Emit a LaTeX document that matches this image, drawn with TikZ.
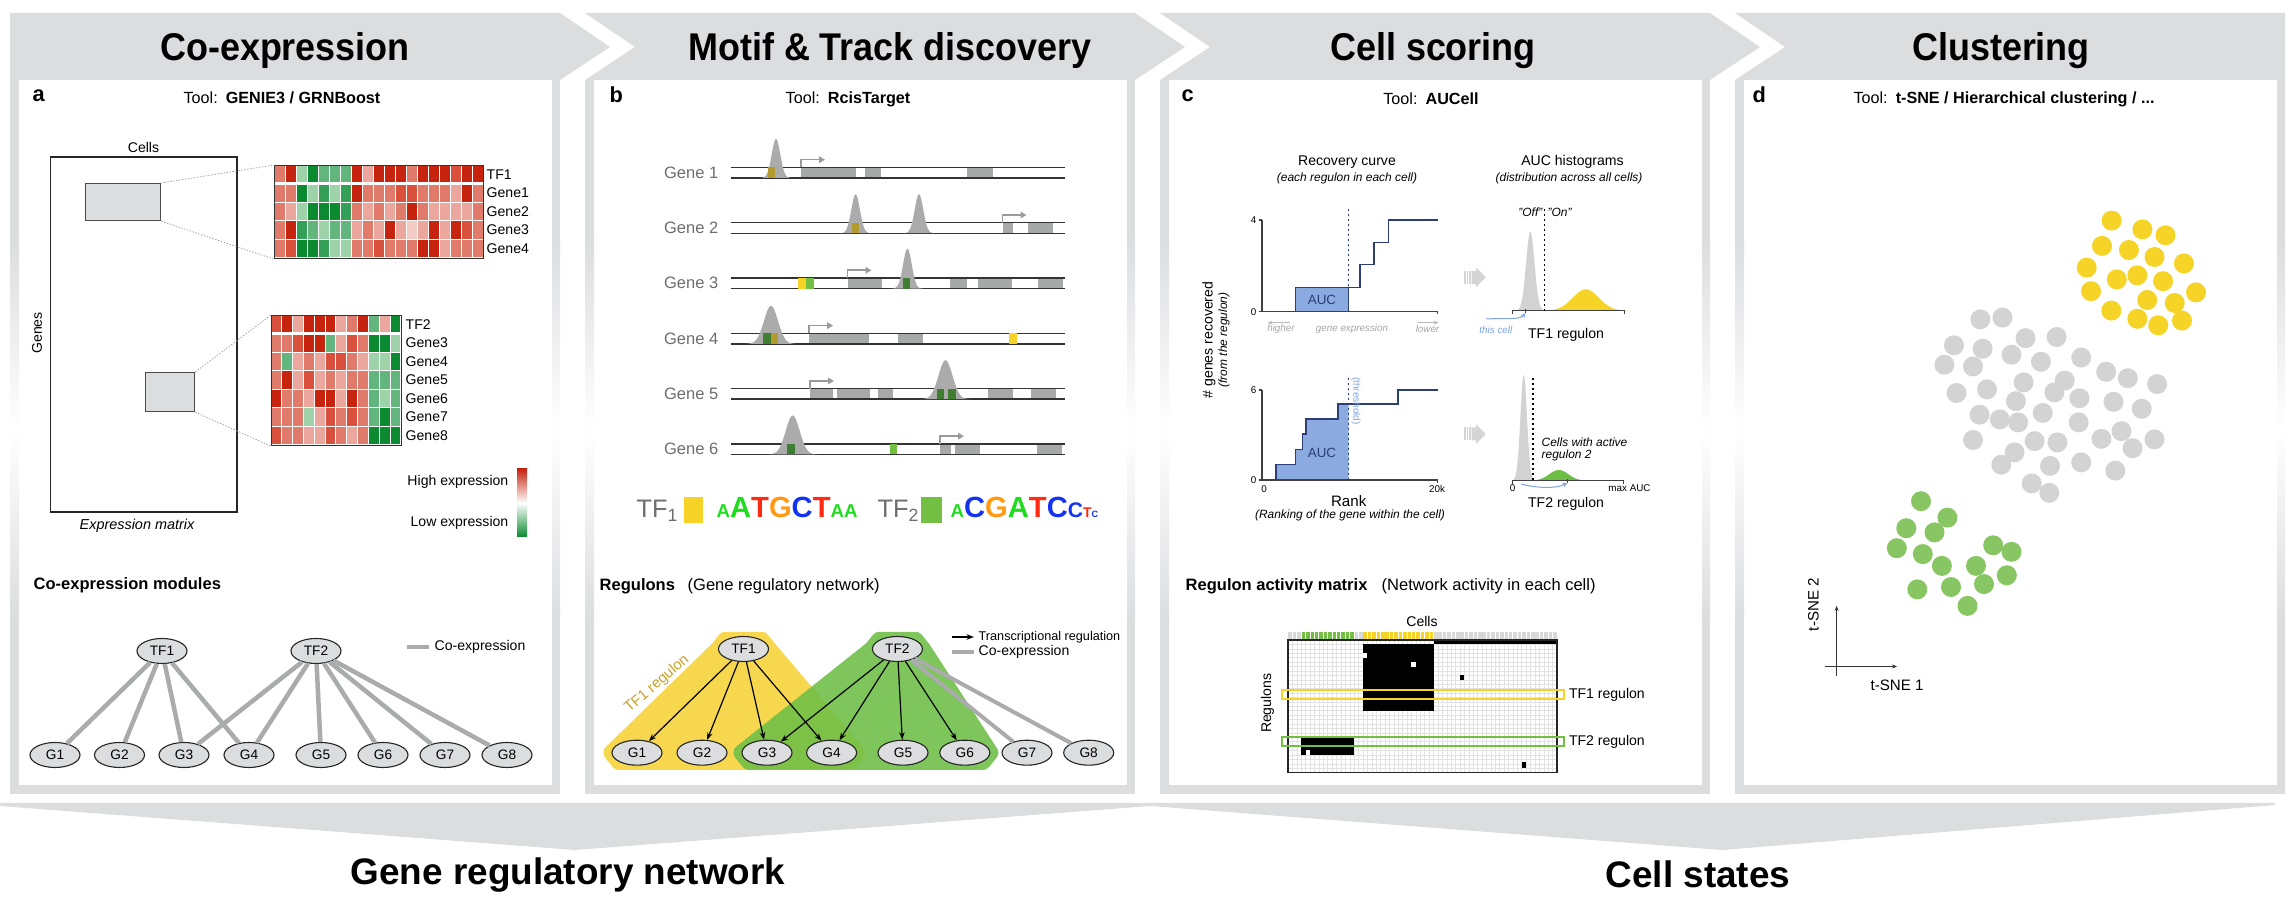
\documentclass[tikz,border=0pt]{standalone}
\usepackage{fontspec}
\setmainfont{Liberation Sans}
\usepackage{graphicx}
\usetikzlibrary{arrows.meta,positioning,shapes.geometric}
\pgfdeclarelayer{background}
\pgfsetlayers{background,main}
\definecolor{frameGray}{HTML}{DCDDDF}
\definecolor{nodeGray}{HTML}{DCDDDF}
\definecolor{edgeGray}{HTML}{A9ABAC}
\definecolor{peakGray}{HTML}{ABABAB}
\definecolor{exonGray}{HTML}{A7A9A9}
\definecolor{tssGray}{HTML}{9B9B9B}
\definecolor{geneText}{HTML}{6E6E6E}
\definecolor{tfYellow}{HTML}{F5D327}
\definecolor{tfGreen}{HTML}{72BF44}
\definecolor{tfOlive}{HTML}{B39A2E}
\definecolor{tfDkGreen}{HTML}{3F7D31}
\definecolor{blobYellow}{HTML}{F6D74E}
\definecolor{blobGreen}{HTML}{6DBE45}
\definecolor{regText}{HTML}{C9A227}
\definecolor{aucBlue}{HTML}{8AAAE0}
\definecolor{aucNavy}{HTML}{2C3E75}
\definecolor{lightBlue}{HTML}{7DA2E6}
\definecolor{histGray}{HTML}{D2D2D2}
\definecolor{arrowGray}{HTML}{D5D5D5}
\definecolor{dotGray}{HTML}{D3D3D3}
\definecolor{dotGreen}{HTML}{88C663}
\definecolor{barGray}{HTML}{D8D8D8}
\definecolor{gridGray}{HTML}{E2E2E2}
\definecolor{seqGreen}{HTML}{1FDC1F}
\definecolor{seqRed}{HTML}{FF2A12}
\definecolor{seqOrange}{HTML}{FF9A12}
\definecolor{seqBlue}{HTML}{1433F0}
\definecolor{hm1}{HTML}{0B8A2F}
\definecolor{hm2}{HTML}{34A057}
\definecolor{hm3}{HTML}{62B57C}
\definecolor{hm4}{HTML}{9ED2A9}
\definecolor{hm5}{HTML}{F3CBC4}
\definecolor{hm6}{HTML}{EBA79D}
\definecolor{hm7}{HTML}{E07B6B}
\definecolor{hm8}{HTML}{D9513C}
\definecolor{hm9}{HTML}{C6240F}
\newcommand{\fsz}[1]{\fontsize{#1}{#1}\selectfont}
\newcommand{\hdrtxt}[1]{\scalebox{0.93}[1]{#1}}
% gaussian peak: colour, centre, base, height, sigma
\newcommand{\gpeak}[5]{%
  \pgfmathsetmacro{\pka}{#2-3.6*#5}%
  \pgfmathsetmacro{\pkb}{#2+3.6*#5}%
  \fill[#1] plot[domain=\pka:\pkb, samples=41, smooth]
    (\x,{#3-#4*exp(-0.5*((\x-#2)/#5)*((\x-#2)/#5))}) -- cycle;
}
% striped grey arrow between the plots
\newcommand{\fatarrow}[2]{%
  \begin{scope}[shift={(#1,#2)}]
    \foreach \s in {0,2.7,5.4}{
      \fill[arrowGray] (\s,-6.5) rectangle ++(1.6,13);
    }
    \fill[arrowGray] (7.7,-6.5) -- (12,-6.5) -- (12,-10) -- (21.7,0)
      -- (12,10) -- (12,6.5) -- (7.7,6.5) -- cycle;
  \end{scope}
}

\begin{document}
\begin{tikzpicture}[
    x=0.1mm, y=-0.1mm,
    hdr/.style={font=\fsz{11}\bfseries, anchor=base, inner sep=0},
    big/.style={font=\fsz{10.5}\bfseries, anchor=base, inner sep=0},
    tool/.style={font=\fsz{4.6}, anchor=base, inner sep=0},
    plabel/.style={font=\fsz{6.2}\bfseries, anchor=base west, inner sep=0},
    sub/.style={font=\fsz{4.7}\bfseries, anchor=base west, inner sep=0},
    txt/.style={font=\fsz{4}, inner sep=0},
    note/.style={font=\fsz{3.4}\itshape, inner sep=0},
    ticklab/.style={font=\fsz{2.8}, inner sep=0},
    genelab/.style={font=\fsz{4.7}, text=geneText, inner sep=0},
    gnode/.style={ellipse, draw=black!85, fill=nodeGray, line width=0.11mm,
      minimum width=5mm, minimum height=2.5mm, inner sep=0, font=\fsz{3.9}},
    coexp/.style={edgeGray, line width=0.45mm},
    reg/.style={-{Stealth[length=0.75mm,width=0.55mm]}, line width=0.12mm},
    selbox/.style={draw=black!70, fill=nodeGray, line width=0.12mm, inner sep=0},
    hmbox/.style={draw=black!80, line width=0.12mm, inner sep=0},
    zoomline/.style={black!35, line width=0.08mm, dash pattern=on 0.15mm off 0.15mm},
    geneline/.style={black!80, line width=0.14mm},
    tss/.style={tssGray, line width=0.16mm, -{Triangle[length=0.6mm,width=0.65mm]}},
    axisC/.style={black!75, line width=0.14mm},
    thiscell/.style={lightBlue, line width=0.1mm, -{Stealth[length=0.5mm,width=0.45mm]}},
]
\useasboundingbox (0,0) rectangle (2295,918);
\begin{pgfonlayer}{background}
  \fill[white] (0,0) rectangle (2295,918);
\end{pgfonlayer}

% ---- chevron headers and panel frames ----
\fill[frameGray] (10,13) -- (560,13) -- (610,47) -- (560,80) -- (10,80) -- cycle;
\fill[frameGray] (585,13) -- (1135,13) -- (1185,47) -- (1135,80) -- (585,80) -- (635,47) -- cycle;
\fill[frameGray] (1160,13) -- (1710,13) -- (1760,47) -- (1710,80) -- (1160,80) -- (1210,47) -- cycle;
\fill[frameGray] (1735,13) -- (2285,13) -- (2285,80) -- (1735,80) -- (1785,47) -- cycle;
\foreach \xa in {10,585,1160,1735}{
  \fill[frameGray] (\xa,785) rectangle ++(550,9);
  \foreach \xs/\w in {0/9,542/8}{
    \fill[frameGray] (\xa+\xs,80) rectangle ++(\w,160);
    \shade[top color=frameGray, bottom color=frameGray, middle color=white]
      (\xa+\xs,240) rectangle ++(\w,380);
    \fill[frameGray] (\xa+\xs,620) rectangle ++(\w,165);
  }
}
\fill[frameGray] (0,803) -- (1150,803) -- (1150,806) -- (575,850) -- (0,806) -- cycle;
\fill[frameGray] (1150,803) -- (2275,803) -- (2275,805) -- (1722,850) -- (1150,806) -- cycle;

\node[hdr] (hdrA) at (285,61) {\hdrtxt{Co-expression}};
\node[hdr] (hdrB) at (890,61) {\hdrtxt{Motif \& Track discovery}};
\node[hdr] (hdrC) at (1433,61) {\hdrtxt{Cell scoring}};
\node[hdr] (hdrD) at (2001,61) {\hdrtxt{Clustering}};
\node[big] (grnTitle) at (568,885) {Gene regulatory network};
\node[big] (csTitle) at (1698,888) {Cell states};

% ---- panel a ----
\node[plabel] (labA) at (32,102) {a};
\node[tool] (toolA) at (282,104) {Tool:\enspace\textbf{GENIE3 / GRNBoost}};
\draw[line width=0.15mm, black!85] (50.7,157) rectangle (236.8,512);
\node[txt] (cellsA) at (143.5,147) {Cells};
\node[txt, rotate=90] (genesA) at (37,333) {Genes};
\node[txt, font=\fsz{4.1}\itshape] (exmat) at (137,526) {Expression matrix};
\node[selbox, minimum width=7.5mm, minimum height=3.7mm, anchor=north west] (selA) at (85,183) {};
\node[selbox, minimum width=4.9mm, minimum height=3.9mm, anchor=north west] (selB) at (145,372) {};

\foreach \row [count=\r from 0] in {
    {7,9,4,1,3,3,3,9,6,9,9,9,7,9,9,9,8,9,9},
    {7,7,1,4,2,4,2,9,7,7,7,8,8,7,7,7,6,9,7},
    {7,6,4,1,1,1,2,7,6,7,6,7,9,7,6,6,6,6,7},
    {7,9,2,3,4,3,3,6,7,6,9,6,5,6,9,6,9,8,7},
    {7,8,1,1,2,4,4,7,7,8,7,7,7,9,9,6,7,7,7}}{
  \foreach \v [count=\c from 0] in \row{
    \filldraw[fill=hm\v, draw=white, line width=0.1mm]
      ({274+11*\c},{165+18.6*\r}) rectangle ++(11,18.6);
  }
}
\draw[white, line width=0.3mm] (274,183.6) -- (483,183.6);
\node[hmbox, minimum width=20.9mm, minimum height=9.3mm, anchor=north west] (hmA) at (274,165) {};
\foreach \t [count=\r from 0] in {TF1,Gene1,Gene2,Gene3,Gene4}{
  \node[txt, anchor=west] (hA\r) at (486,{174.3+18.6*\r}) {\t};
}

\foreach \row [count=\r from 0] in {
    {8,9,6,9,9,9,6,7,9,3,6,1},
    {7,7,8,9,9,3,6,8,7,1,1,4},
    {7,3,6,7,6,8,8,7,6,4,4,1},
    {7,9,6,8,6,7,6,7,7,3,3,3},
    {9,7,7,6,9,9,6,9,7,3,4,3},
    {7,7,7,4,6,8,7,8,7,3,1,3},
    {8,7,7,6,6,8,7,6,7,1,1,1}}{
  \foreach \v [count=\c from 0] in \row{
    \filldraw[fill=hm\v, draw=white, line width=0.1mm]
      ({271+10.83*\c},{315+18.57*\r}) rectangle ++(10.83,18.57);
  }
}
\draw[white, line width=0.3mm] (271,333.6) -- (401,333.6);
\node[hmbox, minimum width=13mm, minimum height=13mm, anchor=north west] (hmB) at (271,315) {};
\foreach \t [count=\r from 0] in {TF2,Gene3,Gene4,Gene5,Gene6,Gene7,Gene8}{
  \node[txt, anchor=west] (hB\r) at (405,{324.3+18.57*\r}) {\t};
}
\draw[zoomline] (selA.north east) -- (hmA.north west);
\draw[zoomline] (selA.south east) -- (hmA.south west);
\draw[zoomline] (selB.north east) -- (hmB.north west);
\draw[zoomline] (selB.south east) -- (hmB.south west);

\node[txt, anchor=east] (hiExp) at (509,482) {High expression};
\node[txt, anchor=east] (loExp) at (509,523) {Low expression};
\shade[top color=hm9, bottom color=hm1, middle color=white] (517,469) rectangle (527,537);

\node[sub] (modTitle) at (33,590) {Co-expression modules};
\node[gnode] (tfA1) at (162,651) {TF1};
\node[gnode] (tfA2) at (316,651) {TF2};
\foreach \gx [count=\i] in {55,119.5,184,249,321,383,445,507}{
  \node[gnode] (gA\i) at (\gx,755) {G\i};
}
\foreach \i in {1,...,4}{ \draw[coexp] (tfA1) -- (gA\i); }
\foreach \i in {3,...,8}{ \draw[coexp] (tfA2) -- (gA\i); }
\draw[coexp] (407,647) -- (429,647);
\node[txt, anchor=west] (coexpA) at (434,647) {Co-expression};

% ---- panel b ----
\node[plabel] (labB) at (609,103) {b};
\node[tool] (toolB) at (848,104) {Tool:\enspace\textbf{RcisTarget}};
\foreach \yc/\xa/\xb in {172.7/801/856, 172.7/865/881, 172.7/967/992.5,
    228/1002.5/1013, 228/1027.6/1053,
    283.3/847.5/881.5, 283.3/950/966.6, 283.3/978/1012, 283.3/1038/1063,
    338.6/809/868.6, 338.6/898/923,
    393.9/810/833, 393.9/837/870, 393.9/878/893, 393.9/988/1013, 393.9/1030.6/1056,
    449.2/940/951, 449.2/955/980, 449.2/1037/1062}{
  \fill[exonGray] (\xa,\yc-5.3) rectangle (\xb,\yc+5.3);
}
\foreach \i/\yc in {1/172.7,2/228,3/283.3,4/338.6,5/393.9,6/449.2}{
  \draw[geneline] (731,\yc-5.3) -- (1065,\yc-5.3) (731,\yc+5.3) -- (1065,\yc+5.3);
  \node[genelab, anchor=east] (gene\i) at (719,\yc) {Gene \i};
}
\gpeak{peakGray}{776}{178}{39}{4.3}
\gpeak{peakGray}{855.6}{233.3}{39}{4.3}
\gpeak{peakGray}{919}{233.3}{39}{4.3}
\gpeak{peakGray}{907.4}{288.6}{40}{4.3}
\gpeak{peakGray}{771}{343.9}{38}{7}
\gpeak{peakGray}{945.5}{399.2}{39}{7}
\gpeak{peakGray}{792.7}{454.5}{39}{7}
\foreach \yc/\xa/\xb/\cl in {172.7/768/775/tfOlive, 228/852/858.6/tfOlive,
    283.3/798/806.4/tfYellow, 283.3/806.4/814/tfGreen, 283.3/903/909.6/tfDkGreen,
    338.6/763/770.5/tfDkGreen, 338.6/770.5/778/tfOlive, 338.6/1009/1016.5/tfYellow,
    393.9/937/944.4/tfDkGreen, 393.9/948/955.5/tfDkGreen,
    449.2/787/794.6/tfDkGreen, 449.2/890/897.4/tfGreen}{
  \fill[\cl] (\xa,\yc-5.3) rectangle (\xb,\yc+5.3);
}
\foreach \yc/\xt in {172.7/801, 228/1002.5, 283.3/847.5, 338.6/809, 393.9/810, 449.2/940}{
  \draw[tss] (\xt,\yc-5.3) -- (\xt,\yc-13) -- (\xt+24,\yc-13);
}

\node[anchor=base west, inner sep=0, font=\fsz{7.2}, text=geneText] (tfLeg1) at (636,518) {TF\textsubscript{1}};
\fill[tfYellow] (683.6,497) rectangle (703,523);
\node[anchor=base west, inner sep=0, font=\bfseries] (logo1) at (716,518)
  {\fsz{5.3}\color{seqGreen}A\fsz{8.3}A\color{seqRed}T\color{seqOrange}G\color{seqBlue}C\color{seqRed}T\fsz{5.3}\color{seqGreen}AA};
\node[anchor=base west, inner sep=0, font=\fsz{7.2}, text=geneText] (tfLeg2) at (877,518) {TF\textsubscript{2}};
\fill[tfGreen] (921,497) rectangle (941.5,523);
\node[anchor=base west, inner sep=0, font=\bfseries] (logo2) at (950,518)
  {\fsz{5.3}\color{seqGreen}A\fsz{8.3}\color{seqBlue}C\color{seqOrange}G\color{seqGreen}A\color{seqRed}T\color{seqBlue}C\fsz{6}C\fsz{4}\color{seqRed}T\fsz{2.6}\color{seqBlue}C};

\node[sub] (regTitle) at (599,591) {Regulons};
\node[anchor=base west, inner sep=0, font=\fsz{4.7}] (regParen) at (687,591) {(Gene regulatory network)};
\node[gnode] (tfB1) at (743.5,649) {TF1};
\node[gnode] (tfB2) at (897.4,649) {TF2};
\foreach \gx [count=\i] in {637,702,767,831.6,903,964.8,1027,1088.7}{
  \node[gnode] (gB\i) at (\gx,752.7) {G\i};
}
\begin{pgfonlayer}{background}
  \filldraw[blobYellow, line width=1.6mm, line join=round]
    (tfB1.north west) -- (tfB1.north east) -- (tfB1.east) -- (gB4.east) -- (gB4.south east)
    -- (gB1.south west) -- (gB1.west) -- (tfB1.west) -- cycle;
  \begin{scope}[transparency group, opacity=0.88]
    \filldraw[blobGreen, line width=1.6mm, line join=round]
      (tfB2.north west) -- (tfB2.north east) -- (tfB2.east) -- (gB6.east) -- (gB6.south east)
      -- (gB3.south west) -- (gB3.west) -- (tfB2.west) -- cycle;
  \end{scope}
\end{pgfonlayer}
\node[rotate=41, text=regText, font=\fsz{4.2}, inner sep=0] (regLab) at (657,684) {TF1 regulon};
\foreach \i in {1,...,4}{ \draw[reg] (tfB1) -- (gB\i); }
\foreach \i in {3,...,6}{ \draw[reg] (tfB2) -- (gB\i); }
\draw[coexp, line width=0.4mm] (tfB2) -- (gB7);
\draw[coexp, line width=0.4mm] (tfB2) -- (gB8);
\draw[reg, line width=0.16mm] (952,637) -- (974,637);
\node[txt, font=\fsz{3.6}, anchor=west] (legReg) at (978,637) {Transcriptional regulation};
\draw[coexp, line width=0.4mm] (952,652) -- (974,652);
\node[txt, anchor=west] (legCo) at (978,652) {Co-expression};

% ---- panel c ----
\node[plabel] (labC) at (1181,102) {c};
\node[tool] (toolC) at (1431,105) {Tool:\enspace\textbf{AUCell}};
\node[txt] (recTitle) at (1347,162) {Recovery curve};
\node[note] (recSub) at (1347,178) {(each regulon in each cell)};
\node[txt] (histTitle) at (1572.5,162) {AUC histograms};
\node[note] (histSub) at (1569,178) {(distribution across all cells)};
\node[txt, rotate=90] (yLab) at (1209,340) {\# genes recovered};
\node[note, rotate=90] (yLabSub) at (1224,340) {(from the regulon)};

% upper recovery curve
\filldraw[fill=aucBlue, draw=aucNavy, line width=0.1mm] (1295.4,311.7) rectangle (1348.7,287.3);
\draw[axisC] (1259,220) -- (1262,220) (1259,311.7) -- (1262,311.7);
\draw[axisC] (1262,220) -- (1262,311.7) -- (1437.5,311.7) -- (1437.5,314.5);
\draw[aucNavy, line width=0.15mm] (1295.4,311.7) -- (1295.4,287.3) -- (1360,287.3) -- (1360,264.3)
  -- (1373.8,264.3) -- (1373.8,242.3) -- (1388.6,242.3) -- (1388.6,220) -- (1437.5,220);
\draw[aucNavy, line width=0.13mm, dash pattern=on 0.25mm off 0.25mm] (1348.7,209) -- (1348.7,311.7);
\node[txt, font=\fsz{3.8}, text=aucNavy] (aucA) at (1322,300) {AUC};
\node[ticklab, anchor=east] (tk4) at (1257,220) {4};
\node[ticklab, anchor=east] (tk0a) at (1257,311.7) {0};
\draw[black!28, line width=0.1mm, -{Stealth[length=0.5mm,width=0.4mm]}] (1290,322.7) -- (1267.6,322.7);
\draw[black!28, line width=0.1mm, -{Stealth[length=0.5mm,width=0.4mm]}] (1418,322.7) -- (1438.6,322.7);
\node[ticklab, font=\fsz{2.8}\itshape, text=black!35] (hiTxt) at (1281,329) {higher};
\node[ticklab, font=\fsz{2.8}\itshape, text=black!35] (geTxt) at (1352,329) {gene expression};
\node[ticklab, font=\fsz{2.8}\itshape, text=black!35] (loTxt) at (1427.5,329) {lower};

% lower recovery curve
\fill[aucBlue] (1275.8,480) -- (1275.8,464.3) -- (1295.4,464.3) -- (1295.4,449.3) -- (1302.4,449.3)
  -- (1302.4,434) -- (1306,434) -- (1306,419) -- (1338,419) -- (1338,404) -- (1348.7,404)
  -- (1348.7,480) -- cycle;
\draw[axisC] (1259,390) -- (1262,390) (1259,480) -- (1262,480);
\draw[axisC] (1262,390) -- (1262,480) -- (1437.5,480) -- (1437.5,483);
\draw[aucNavy, line width=0.15mm] (1275.8,480) -- (1275.8,464.3) -- (1295.4,464.3) -- (1295.4,449.3)
  -- (1302.4,449.3) -- (1302.4,434) -- (1306,434) -- (1306,419) -- (1338,419) -- (1338,404)
  -- (1397.9,404) -- (1397.9,390) -- (1437.5,390);
\draw[aucNavy, line width=0.13mm, dash pattern=on 0.25mm off 0.25mm] (1348.7,378) -- (1348.7,480);
\node[txt, font=\fsz{3.8}, text=aucNavy] (aucB) at (1322,452.7) {AUC};
\node[ticklab, rotate=-90, text=lightBlue] (thrLab) at (1356,401) {(threshold)};
\node[ticklab, anchor=east] (tk6) at (1257,390) {6};
\node[ticklab, anchor=east] (tk0b) at (1257,480) {0};
\node[ticklab] (tkx0) at (1264,489) {0};
\node[ticklab] (tkx20) at (1437,489) {20k};
\node[txt, font=\fsz{4.3}] (rankLab) at (1348.7,501) {Rank};
\node[note] (rankSub) at (1350,515.5) {(Ranking of the gene within the cell)};

\fatarrow{1464}{277.3}
\fatarrow{1464}{434}

% upper histogram
\gpeak{histGray}{1530.3}{310.7}{79}{4.2}
\gpeak{tfYellow}{1585.8}{310.7}{21.4}{13}
\draw[axisC] (1512.6,314) -- (1512.6,310.7) -- (1624.3,310.7) -- (1624.3,314);
\draw[axisC] (1525.5,309) -- (1525.5,313);
\coordinate (cellA) at (1525.5,313);
\draw[black, line width=0.13mm, dash pattern=on 0.25mm off 0.25mm] (1544.7,209) -- (1544.7,310.7);
\node[note, anchor=east] (offLab) at (1543,212.7) {"Off"};
\node[note, anchor=west] (onLab) at (1547,212.7) {"On"};
\node[ticklab, font=\fsz{2.8}\itshape, text=lightBlue, anchor=east] (thisCell) at (1513,330) {this cell};
\coordinate (thisStart) at (1486,319);
\draw[thiscell] (thisStart) .. controls (1505,318) and (1520,320) .. (cellA);
\node[txt] (tf1Hist) at (1566,335) {TF1 regulon};

% lower histogram
\gpeak{histGray}{1523.7}{480.7}{105.7}{3.3}
\gpeak{blobGreen}{1558.8}{480.7}{10.7}{9.5}
\draw[axisC] (1512.6,484) -- (1512.6,480.7) -- (1623.5,480.7) -- (1623.5,484);
\draw[axisC] (1567.3,479) -- (1567.3,483);
\coordinate (cellB) at (1567.3,483);
\coordinate (cellBstart) at (1521,484);
\draw[thiscell] (cellBstart) .. controls (1540,489) and (1558,488) .. (cellB);
\draw[black, line width=0.13mm, dash pattern=on 0.25mm off 0.25mm] (1533,378) -- (1533,480.7);
\node[note, align=left, anchor=north west] (activeLab) at (1541,437.5) {Cells with active\\regulon 2};
\node[ticklab] (hx0) at (1512.6,488.5) {0};
\node[ticklab] (hxMax) at (1629.5,488.5) {max AUC};
\node[txt] (tf2Hist) at (1566,504) {TF2 regulon};

% regulon activity matrix
\node[sub] (ramTitle) at (1185,591) {Regulon activity matrix};
\node[anchor=base west, inner sep=0, font=\fsz{4.7}] (ramParen) at (1381,591) {(Network activity in each cell)};
\node[txt] (cellsC) at (1422,621) {Cells};
\node[txt, rotate=90] (regsC) at (1267.6,703.3) {Regulons};
\begin{scope}[shift={(1288,640)}, x=0.441mm, y=-0.442mm]
  \foreach \i in {0,...,60}{ \fill[barGray] (\i+0.1,-1.9) rectangle (\i+0.9,0); }
  \foreach \i in {3,...,14}{ \fill[tfGreen] (\i+0.1,-1.9) rectangle (\i+0.9,0); }
  \foreach \i in {17,...,32}{ \fill[tfYellow] (\i+0.1,-1.9) rectangle (\i+0.9,0); }
  \foreach \i in {0,...,61}{ \draw[gridGray, line width=0.05mm] (\i,0) -- (\i,30); }
  \foreach \j in {0,...,30}{ \draw[gridGray, line width=0.05mm] (0,\j) -- (61,\j); }
  \fill (33,0) rectangle (61,1);
  \fill (17,1) rectangle (33,16);
  \fill[white] (17,3) rectangle (18,4);
  \fill[white] (28,5) rectangle (29,6);
  \fill (39,8) rectangle (40,9);
  \fill (3,22) rectangle (15,26);
  \fill[white] (4,25) rectangle (5,26);
  \fill (53,27.5) rectangle (54,29);
  \draw[black!85, line width=0.12mm] (0,0) rectangle (61,30);
  \draw[tfYellow, line width=0.16mm] (-1.3,11.3) rectangle (62.6,13.4);
  \draw[tfGreen, line width=0.16mm] (-1.3,22) rectangle (62.6,24);
\end{scope}
\node[txt, anchor=west] (tf1Row) at (1568.3,694.7) {TF1 regulon};
\node[txt, anchor=west] (tf2Row) at (1568.3,741.5) {TF2 regulon};

% ---- panel d ----
\node[plabel] (labD) at (1752,103) {d};
\node[tool] (toolD) at (2004,104) {Tool:\enspace\textbf{t-SNE / Hierarchical clustering / ...}};
\foreach \dx/\dy in {2111.6/220.6, 2142.4/229.4, 2165.5/235.3, 2102/245.9, 2128.9/250,
    2154.5/257, 2183.9/263.5, 2086.7/267.6, 2116.8/279.4, 2137.3/275.3, 2163/281.2,
    2196/292.4, 2091/291.2, 2147.2/300, 2174.7/303, 2111.3/310.6, 2137.3/318.8,
    2158.2/325.3, 2182/320.6}{
  \fill[tfYellow] (\dx,\dy) circle (10);
}
\foreach \dx/\dy in {1980.4/319.4, 2002.4/317.6, 1954/345.3, 1982.6/348.8, 2025.5/338.2,
    2056.6/337, 1944.4/364.7, 1973/366.5, 2011.5/354.7, 2040.9/361.8, 2081.2/357.6,
    2106.1/371.8, 2127.8/378.2, 2157.1/384.1, 2064.7/380.6, 2023.6/382.4, 1956.5/393,
    1987/389.4, 2054.4/392.4, 2079.4/398.2, 2015.9/401.2, 2113.5/401.8, 2141.7/408.8,
    1979.6/414.7, 2042.7/413, 1999.8/419.4, 2018.1/422.4, 2078.6/422.4, 2121.5/431.2,
    1973/440, 2034.6/441.2, 2057.4/442.4, 2101.4/438.8, 2154.5/439.4, 2132.5/448.2,
    2014.5/452.4, 2001.3/464.7, 2050/465.9, 2081.2/462.4, 2115.3/470.6, 2031.7/483.5,
    2049.3/492.9}{
  \fill[dotGray] (\dx,\dy) circle (10);
}
\foreach \dx/\dy in {1921/501.2, 1947.4/517.6, 1906.3/528.2, 1934.5/532.4, 1896.8/548.2,
    1922.8/554.1, 1941.9/565.9, 1993.2/545.3, 2011.5/551.8, 1976/565.9, 2006.8/575.3,
    1984/584.1, 1951/587, 1917.3/589.4, 1967.5/605.9}{
  \fill[dotGreen] (\dx,\dy) circle (10);
}
\draw[black!80, line width=0.12mm, -{Stealth[length=0.5mm,width=0.4mm]}] (1836.6,676.5) -- (1836.6,605.9);
\draw[black!80, line width=0.12mm, -{Stealth[length=0.5mm,width=0.4mm]}] (1825.2,666.5) -- (1897.1,666.5);
\node[txt, font=\fsz{4.3}, rotate=90] (tsne2) at (1813.5,604.7) {t-SNE 2};
\node[txt, font=\fsz{4.3}] (tsne1) at (1897,685.3) {t-SNE 1};

\end{tikzpicture}
\end{document}
